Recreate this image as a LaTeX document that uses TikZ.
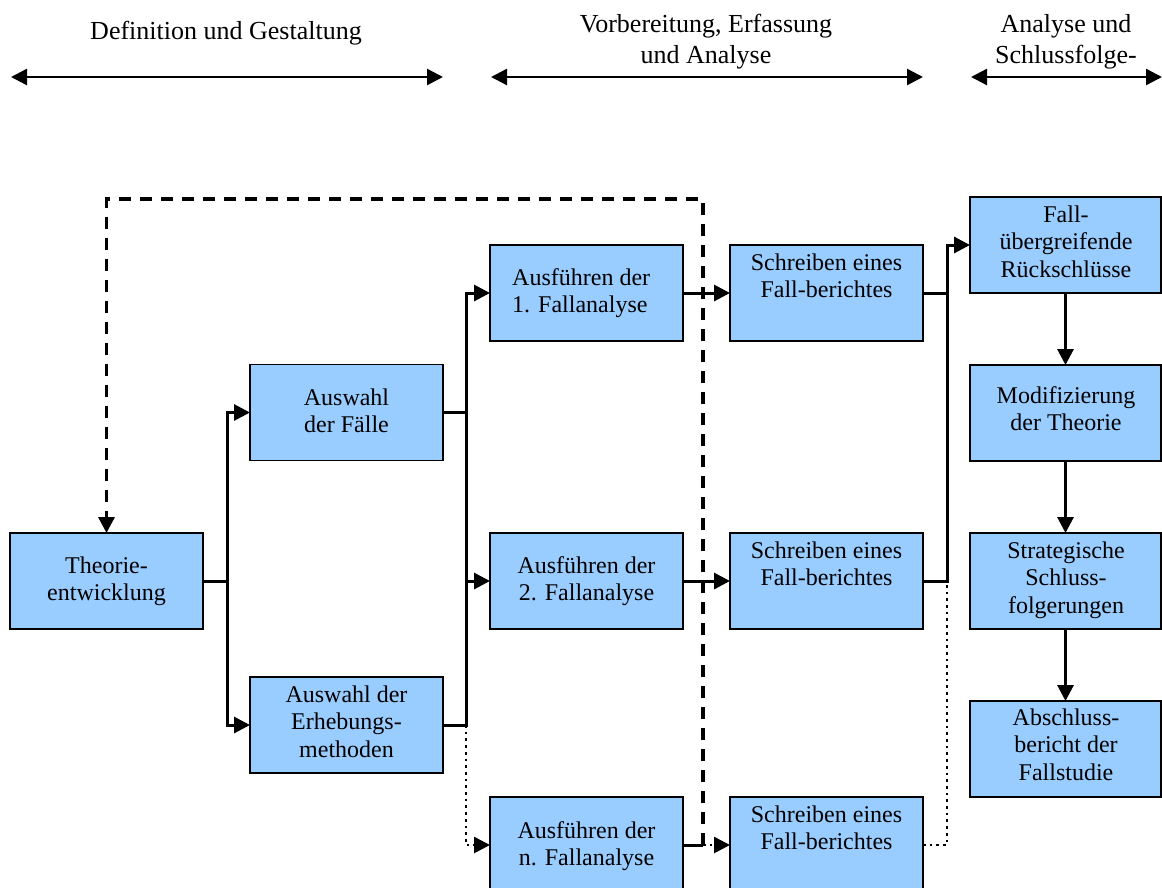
\documentclass[tikz,border=0pt]{standalone}
\usepackage{fontspec}
\setmainfont{Liberation Serif}
\usetikzlibrary{arrows.meta,calc}
\definecolor{boxblue}{RGB}{153,204,255}
\begin{document}
\begin{tikzpicture}[x=1pt,y=-1pt,
  procbox/.style={draw=black, line width=1.8pt, fill=boxblue, minimum width=193pt, minimum height=96pt, inner sep=0pt, outer sep=0pt},
  rbox/.style={procbox, minimum width=191pt},
  txt/.style={anchor=north, align=center, inner sep=0pt, font=\fontsize{24}{27.6}\selectfont},
  hdr/.style={anchor=north, align=center, inner sep=0pt, font=\fontsize{26}{31}\selectfont},
  conn/.style={line width=3pt},
  arrowend/.style={-{Triangle[length=16pt,width=16pt]}},
  dsh/.style={line width=3.2pt, dash pattern=on 12.5pt off 8.5pt},
  dotline/.style={line width=2.7pt, dash pattern=on 2.7pt off 4pt},
  spanarrow/.style={line width=2.4pt, {Triangle[length=16pt,width=16pt]}-{Triangle[length=16pt,width=16pt]}}
]
\useasboundingbox (0,0) rectangle (1162,887);
\fill[white] (0,0) rectangle (1162,887);
\clip (0,0) rectangle (1162,887);

% headers
\node[hdr] (h1) at (226,17.3) {\strut Definition und Gestaltung};
\node[hdr] (h2) at (706,10.3) {\strut Vorbereitung, Erfassung\\und Analyse};
\node[hdr] (h3) at (1066,10.3) {\strut Analyse und\\Schlussfolge-};
\coordinate (a1) at (11,77); \coordinate (a2) at (443,77);
\coordinate (b1) at (491,77); \coordinate (b2) at (923,77);
\coordinate (c1) at (971,77); \coordinate (c2) at (1162,77);
\draw[spanarrow] (a1) -- (a2);
\draw[spanarrow] (b1) -- (b2);
\draw[spanarrow] (c1) -- (c2);

% boxes
\node[procbox] (theo)  at (106.5,581) {};
\node[procbox] (auswF) at (346.5,412.5) {};
\node[procbox] (erheb) at (346.5,725) {};
\node[procbox] (ausf1) at (586.5,293) {};
\node[procbox] (ausf2) at (586.5,581) {};
\node[procbox] (ausfn) at (586.5,845) {};
\node[procbox] (schr1) at (826.5,293) {};
\node[procbox] (schr2) at (826.5,581) {};
\node[procbox] (schrn) at (826.5,845) {};
\node[rbox] (fallu) at (1065.5,245) {};
\node[rbox] (modi)  at (1065.5,413) {};
\node[rbox] (strat) at (1065.5,581) {};
\node[rbox] (absch) at (1065.5,749) {};

% texts
\node[txt] (ttheo)  at (106.5,553.7) {\strut Theorie-\\entwicklung};
\node[txt] (tauswF) at (346.5,385.7) {\strut Auswahl\\der Fälle};
\node[txt] (terheb) at (346.5,682.7) {\strut Auswahl der\\Erhebungs-\\methoden};
\node[txt, anchor=north west, align=left] (tausf1) at (512,265.7) {\strut Ausführen der\\1. Fallanalyse};
\node[txt] (tausf2) at (586.5,553.7) {\strut Ausführen der\\2. Fallanalyse};
\node[txt] (tausfn) at (586.5,818.7) {\strut Ausführen der\\n. Fallanalyse};
\node[txt] (tschr1) at (826.5,250.7) {\strut Schreiben eines\\Fall-berichtes};
\node[txt] (tschr2) at (826.5,538.7) {\strut Schreiben eines\\Fall-berichtes};
\node[txt] (tschrn) at (826.5,802.7) {\strut Schreiben eines\\Fall-berichtes};
\node[txt] (tfallu) at (1066,202.7) {\strut Fall-\\übergreifende\\Rückschlüsse};
\node[txt] (tmodi)  at (1066,383.7) {\strut Modifizierung\\der Theorie};
\node[txt] (tstrat) at (1066,538.7) {\strut Strategische\\Schluss-\\folgerungen};
\node[txt] (tabsch) at (1066,705.7) {\strut Abschluss-\\bericht der\\Fallstudie};

% junctions
\coordinate (j1) at (227,581);
\coordinate (j2) at (466,412.5);
\coordinate (j2b) at (466,581);
\coordinate (j3) at (466,725);
\coordinate (d0) at (703,845);
\coordinate (fb) at (703,199);
\coordinate (j4) at (947,293);
\coordinate (j5) at (947,581);
\coordinate (j6) at (947,845);

% feedback (dashed)
\draw[dsh, arrowend] (d0) -- (fb) -| (theo.north);

% connectors
\draw[conn] (theo.east) -- (j1);
\draw[conn, arrowend] (j1) |- (auswF.west);
\draw[conn, arrowend] (j1) |- (erheb.west);
\draw[conn] (auswF.east) -- (j2);
\draw[conn, arrowend] (j2) |- (ausf1.west);
\draw[conn, arrowend] (j2) |- (ausf2.west);
\draw[conn] (erheb.east) -- (j3) -- (j2b);
\draw[dotline, arrowend] (j3) |- (ausfn.west);
\draw[conn, arrowend] (ausf1.east) -- (schr1.west);
\draw[conn, arrowend] (ausf2.east) -- (schr2.west);
\draw[conn] (ausfn.east) -- (d0);
\draw[dotline, arrowend] (d0) -- (schrn.west);
\draw[conn] (schr1.east) -- (j4);
\draw[conn, arrowend] (j4) |- (fallu.west);
\draw[conn] (schr2.east) -- (j5) -- (j4);
\draw[dotline] (schrn.east) -- (j6) -- (j5);
\draw[conn, arrowend] (fallu.south) -- (modi.north);
\draw[conn, arrowend] (modi.south) -- (strat.north);
\draw[conn, arrowend] (strat.south) -- (absch.north);
\end{tikzpicture}
\end{document}
